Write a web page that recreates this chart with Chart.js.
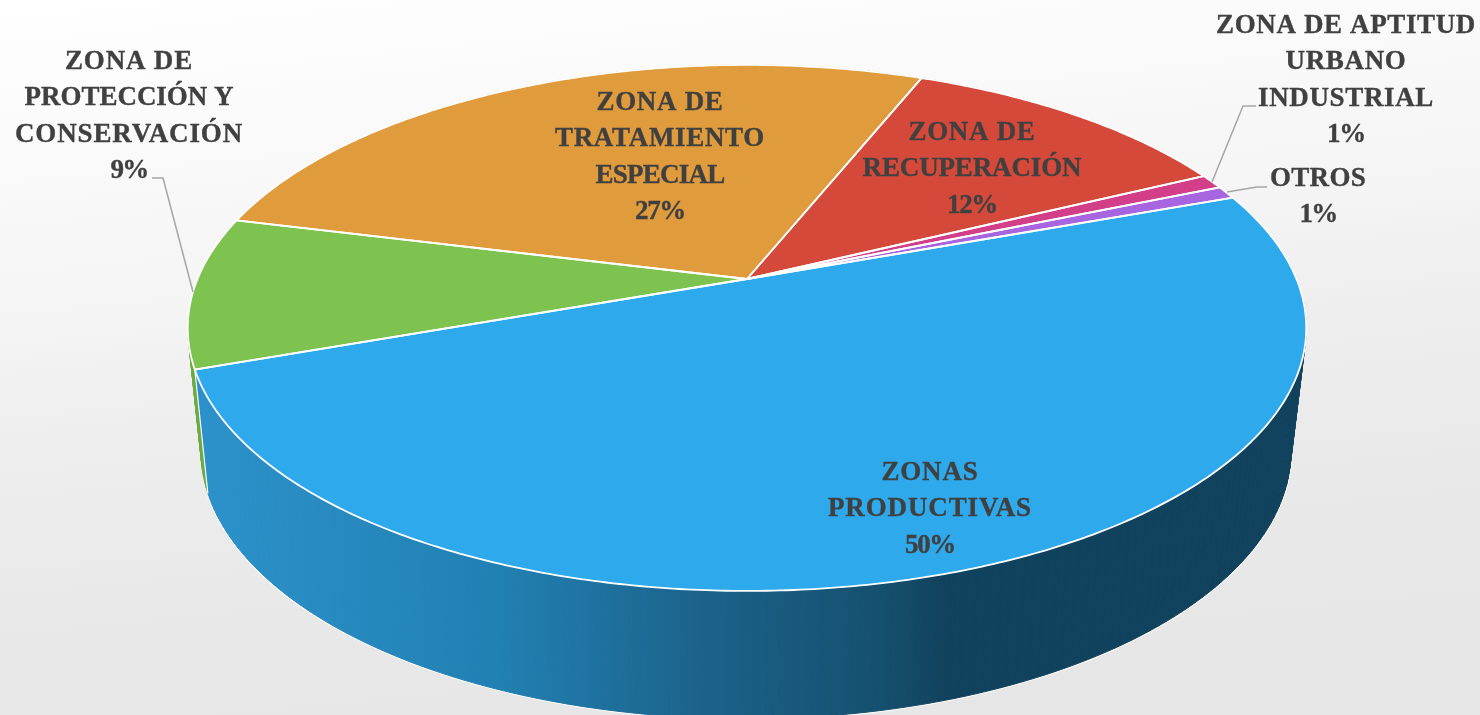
<!DOCTYPE html>
<html>
<head>
<meta charset="utf-8">
<style>html,body{margin:0;padding:0;background:#fff}canvas{display:block}</style>
<script src="https://cdn.jsdelivr.net/npm/chart.js@4"></script>
</head>
<body>
<canvas id="c" width="1480" height="715"></canvas>
<script>
const categories = ['ZONAS PRODUCTIVAS','ZONA DE PROTECCIÓN Y CONSERVACIÓN','ZONA DE TRATAMIENTO ESPECIAL','ZONA DE RECUPERACIÓN','ZONA DE APTITUD URBANO INDUSTRIAL','OTROS'];
const values = [50.1, 9.3, 27.2, 11.7, 0.9, 0.8];
const sliceColors = ['#2EA9EC','#7EC250','#DF9B3C','#D5493A','#D23E88','#A766E0'];
const wallColors = ['#1b6288','#6CAC3C','#B87F30','#A83A2E','#A83070','#8550B3'];
const labelLines = [['ZONAS','PRODUCTIVAS','50%'],['ZONA DE','PROTECCIÓN Y','CONSERVACIÓN','9%'],['ZONA DE','TRATAMIENTO','ESPECIAL','27%'],['ZONA DE','RECUPERACIÓN','12%'],['ZONA DE APTITUD','URBANO','INDUSTRIAL','1%'],['OTROS','1%']];
const labelLineWidths = [[97,204,50],[128,209,228,37],[127,210,129,50],[127,219,50],[260,121,176,38],[96,37]];
const labelCentersX = [930,129,660,972,1346,1318];
const labelFirstLineY = [473,62,103,133,26,179];
const leaderPaths = [null,[[152,178],[163,178],[193,292]],null,null,[[1212,182],[1243,106],[1256,106]],[[1227,192],[1257,187],[1267,187]]];
const ROTATION_DEG = 70.1;
const topFace = {cx:747, cy:279, a:549.5, b:253.9, k:0.186};
const baseFace = {cx:746, cy:401, a:535.5, b:258.7, k:0.186};
const FONT = 'bold 27px "Liberation Serif"';
const LINE_H = 36.5;

function project(face, theta){
  const u = Math.cos(theta), v = Math.sin(theta), w = 1 - face.k * v;
  return [face.cx + face.a * u / w, face.cy + face.b * v / w];
}
function rimPath(ctx, face, a0, a1, move){
  const n = Math.max(2, Math.ceil(Math.abs(a1 - a0) / 0.01));
  for (let i = 0; i <= n; i++){
    const p = project(face, a0 + (a1 - a0) * i / n);
    if (i === 0 && move) ctx.moveTo(p[0], p[1]); else ctx.lineTo(p[0], p[1]);
  }
}
const pie3d = {
  id:'pie3d',
  beforeDraw(chart){
    const ctx = chart.ctx;
    const g = ctx.createLinearGradient(0,0,80,800);
    g.addColorStop(0,'#ffffff'); g.addColorStop(.38,'#f5f5f5'); g.addColorStop(.55,'#eeeeee');
    g.addColorStop(.75,'#e9e9e9'); g.addColorStop(1,'#e6e6e6');
    ctx.fillStyle = g; ctx.fillRect(0,0,chart.width,chart.height);
  },
  beforeDatasetDraw(chart){
    const ctx = chart.ctx, arcs = chart.getDatasetMeta(0).data;
    const wg = ctx.createLinearGradient(207,0,960,0);
    wg.addColorStop(0,'#2C91CA'); wg.addColorStop(.39,'#2180B2'); wg.addColorStop(.66,'#1B628A');
    wg.addColorStop(.9,'#154F6E'); wg.addColorStop(.98,'#11425D'); wg.addColorStop(1,'#11425D');
    ctx.save();
    const s0 = arcs[0].startAngle, e0 = arcs[0].endAngle;
    ctx.strokeStyle = '#ffffff'; ctx.lineWidth = 2.8; ctx.lineJoin = 'round';
    ctx.beginPath(); rimPath(ctx, baseFace, s0, e0, true); ctx.stroke();
    for (let idx = arcs.length - 1; idx >= 0; idx--){
      const s = arcs[idx].startAngle, e = arcs[idx].endAngle;
      const style = idx === 0 ? wg : wallColors[idx];
      ctx.fillStyle = style; ctx.strokeStyle = style; ctx.lineWidth = 1;
      const step = 0.02, n = Math.max(1, Math.ceil((e - s) / step));
      for (let i = 0; i < n; i++){
        const t0 = s + (e - s) * i / n, t1 = s + (e - s) * (i + 1) / n;
        const a = project(topFace,t0), b = project(topFace,t1), c = project(baseFace,t1), d = project(baseFace,t0);
        ctx.beginPath(); ctx.moveTo(a[0],a[1]); ctx.lineTo(b[0],b[1]); ctx.lineTo(c[0],c[1]); ctx.lineTo(d[0],d[1]); ctx.closePath();
        ctx.fill(); ctx.stroke();
      }
    }
    const tp = project(topFace, e0), bp = project(baseFace, e0);
    ctx.strokeStyle = '#ffffff'; ctx.lineWidth = 1.2;
    ctx.beginPath(); ctx.moveTo(bp[0], bp[1]); ctx.lineTo(tp[0], tp[1]); ctx.stroke();
    arcs.forEach((arc, i) => {
      ctx.beginPath(); ctx.moveTo(topFace.cx, topFace.cy);
      rimPath(ctx, topFace, arc.startAngle, arc.endAngle, false);
      ctx.closePath();
      ctx.fillStyle = sliceColors[i]; ctx.fill();
    });
    arcs.forEach((arc) => {
      ctx.beginPath(); ctx.moveTo(topFace.cx, topFace.cy);
      rimPath(ctx, topFace, arc.startAngle, arc.endAngle, false);
      ctx.closePath();
      ctx.strokeStyle = '#ffffff'; ctx.lineWidth = 1.8; ctx.stroke();
    });
    ctx.restore();
    return false;
  },
  afterDraw(chart){
    const ctx = chart.ctx;
    ctx.save();
    ctx.strokeStyle = '#A6A6A6'; ctx.lineWidth = 1.5; ctx.lineJoin = 'round';
    leaderPaths.forEach(p => {
      if (!p) return;
      ctx.beginPath(); p.forEach((q,i) => i ? ctx.lineTo(q[0],q[1]) : ctx.moveTo(q[0],q[1])); ctx.stroke();
    });
    ctx.font = FONT; ctx.fillStyle = '#404040'; ctx.strokeStyle = '#404040'; ctx.lineWidth = 0.35;
    ctx.textAlign = 'center'; ctx.textBaseline = 'middle';
    labelLines.forEach((lines,i) => lines.forEach((t,j) => {
      ctx.letterSpacing = '0px';
      const natural = ctx.measureText(t).width;
      const sp = (labelLineWidths[i][j] - natural) / t.length;
      ctx.letterSpacing = sp.toFixed(2) + 'px';
      const x = labelCentersX[i], y = labelFirstLineY[i] + j * LINE_H;
      ctx.fillText(t, x, y); ctx.strokeText(t, x, y);
    }));
    ctx.restore();
  }
};
new Chart(document.getElementById('c'), {
  type:'pie',
  data:{labels:categories, datasets:[{data:values, backgroundColor:sliceColors, borderColor:'#ffffff', borderWidth:2}]},
  options:{
    responsive:false, animation:false, rotation:ROTATION_DEG,
    plugins:{legend:{display:false}, tooltip:{enabled:false}}
  },
  plugins:[pie3d]
});
</script>
</body>
</html>
